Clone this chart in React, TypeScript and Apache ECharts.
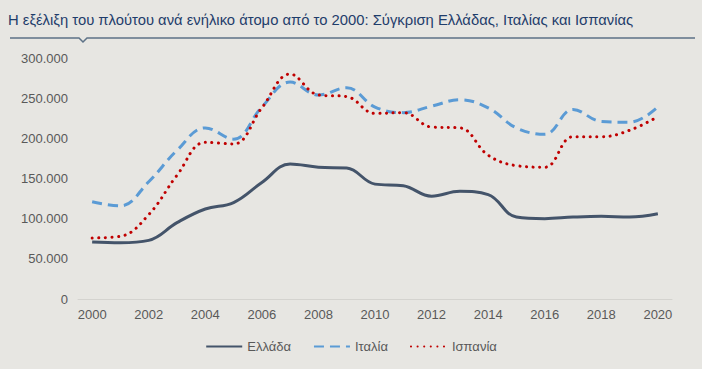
import React, { useEffect, useRef } from "react";
import * as echarts from "echarts";

const years = ["2000","2001","2002","2003","2004","2005","2006","2007","2008","2009","2010","2011","2012","2013","2014","2015","2016","2017","2018","2019","2020"];
const greece = [71000,70000,73000,95000,112000,120000,145000,168000,164000,163000,143000,141000,128000,134000,130000,102000,100000,102000,103000,102000,106000];
const italy = [121000,116000,146000,185000,213000,199000,239000,270000,254000,263000,239000,232000,240000,248000,238000,213000,205000,236000,221000,220000,239000];
const spain = [76000,78000,105000,154000,195000,193000,238000,280000,254000,252000,231000,232000,214000,213000,179000,166000,164000,202000,202000,210000,227000];
const seriesNames = ["Ελλάδα", "Ιταλία", "Ισπανία"];
const title = "Η εξέλιξη του πλούτου ανά ενήλικο άτομο από το 2000: Σύγκριση Ελλάδας, Ιταλίας και Ισπανίας";

export default function App() {
  const ref = useRef<HTMLDivElement>(null);
  useEffect(() => {
    if (!ref.current) return;
    const chart = echarts.init(ref.current, null, { renderer: "svg" });
    const font = "'Liberation Sans', Arial, sans-serif";
    chart.setOption({
      animation: false,
      backgroundColor: "#e7e6e2",
      textStyle: { fontFamily: font },
      title: {
        text: title,
        left: 3,
        top: 7,
        textStyle: { fontFamily: font, fontSize: 14.8, fontWeight: "normal", color: "#1f3d6b" },
      },
      graphic: [
        {
          type: "polyline",
          shape: { points: [[10, 38], [79, 38], [83, 42], [87, 38], [695, 38]] },
          style: { stroke: "#5e7287", lineWidth: 1.5, fill: "none" },
        },
      ],
      grid: { left: 78, right: 30, top: 58, bottom: 70 },
      legend: {
        data: seriesNames,
        bottom: 11,
        left: "center",
        itemWidth: 36,
        itemHeight: 10,
        itemGap: 22,
        itemStyle: { opacity: 0 },
        textStyle: { fontFamily: font, fontSize: 13, color: "#595959" },
      },
      xAxis: {
        type: "category",
        data: years,
        boundaryGap: true,
        axisLine: { show: true, lineStyle: { color: "#d4d3cf", width: 1 } },
        axisTick: { show: false },
        axisLabel: { interval: 1, color: "#595959", fontSize: 13, fontFamily: font, margin: 9 },
        splitLine: { show: false },
      },
      yAxis: {
        type: "value",
        min: 0,
        max: 300000,
        interval: 50000,
        axisLine: { show: false },
        axisTick: { show: false },
        splitLine: { show: false },
        axisLabel: {
          color: "#595959",
          fontSize: 13,
          fontFamily: font,
          margin: 10,
          formatter: (v: number) => (v === 0 ? "0" : (v / 1000).toFixed(0) + ".000"),
        },
      },
      series: [
        {
          name: seriesNames[0],
          type: "line",
          data: greece,
          smooth: 0.4,
          symbol: "none",
          lineStyle: { color: "#44546a", width: 3 },
          itemStyle: { color: "#44546a" },
        },
        {
          name: seriesNames[1],
          type: "line",
          data: italy,
          smooth: 0.4,
          symbol: "none",
          lineStyle: { color: "#5b9bd5", width: 3, type: [10, 6] },
          itemStyle: { color: "#5b9bd5" },
        },
        {
          name: seriesNames[2],
          type: "line",
          data: spain,
          smooth: 0.4,
          symbol: "none",
          lineStyle: { color: "#c00000", width: 3, type: [0.1, 6.5], cap: "round" },
          itemStyle: { color: "#c00000" },
        },
      ],
    });
    return () => chart.dispose();
  }, []);
  return <div ref={ref} style={{ position: "fixed", left: 0, top: 0, width: 702, height: 369 }} />;
}
